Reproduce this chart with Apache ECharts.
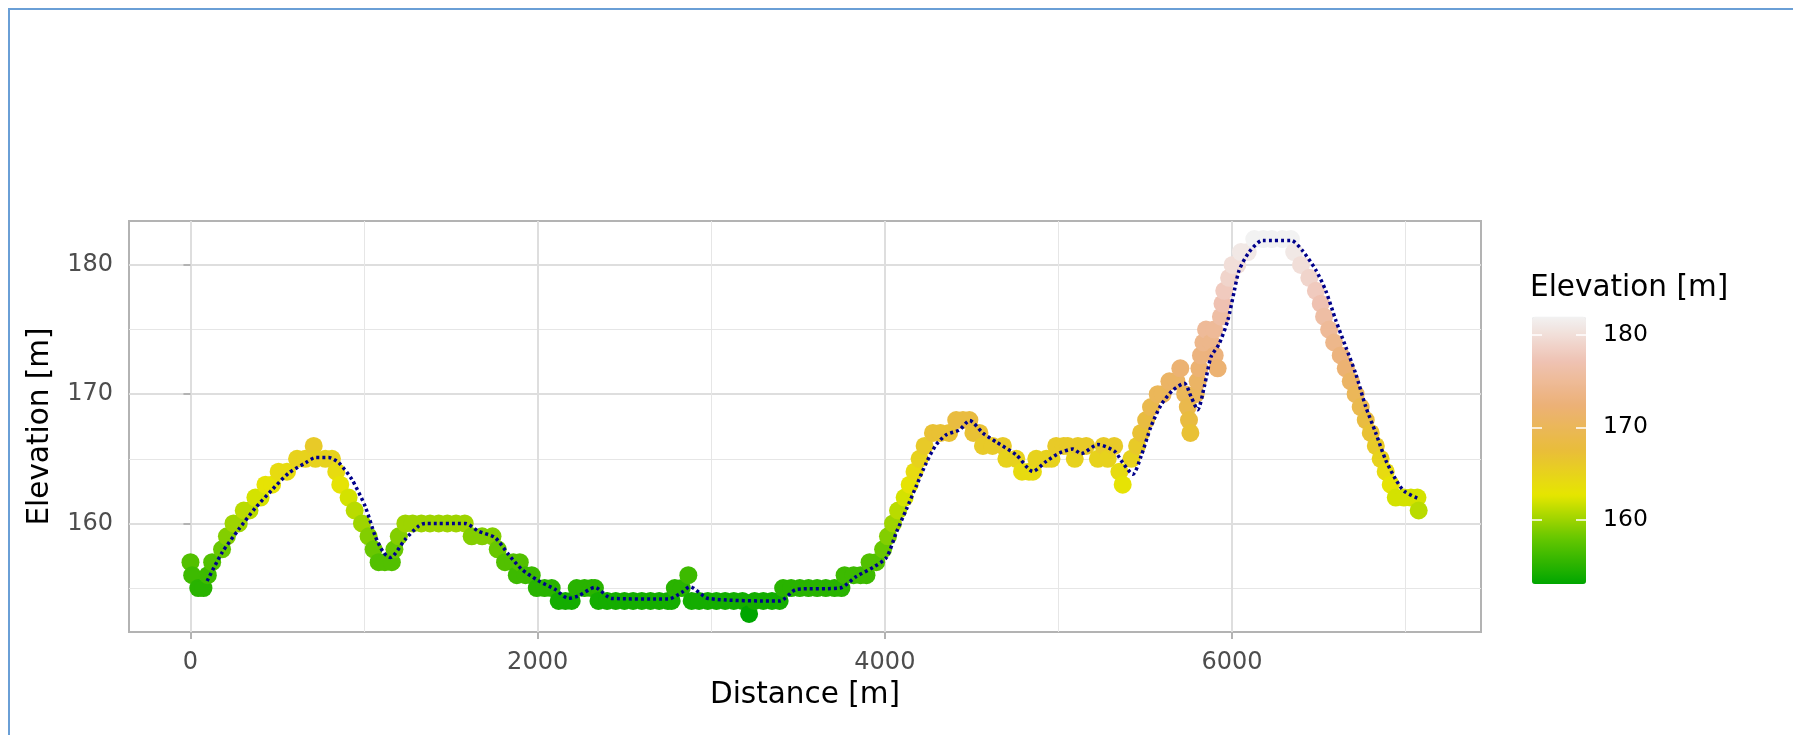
<!DOCTYPE html>
<html>
<head>
<meta charset="utf-8">
<script src="https://cdn.jsdelivr.net/npm/echarts@6/dist/echarts.min.js"></script>
<style>
html,body{margin:0;padding:0;background:#fff;overflow:hidden;}
#chart{position:absolute;left:0;top:0;width:1793px;height:735px;}
#frame{position:absolute;left:8px;top:8px;width:1800px;height:740px;border-left:2px solid #6A9FD6;border-top:2px solid #6A9FD6;pointer-events:none;}
</style>
</head>
<body>
<div id="chart"></div>
<div id="frame"></div>
<script>
// Track points (distance [m], elevation [m])
const distance = [0,10,45,75,100,125,182,210,248,278,307,340,374,404,432,470,508,556,614,662,710,720,777,815,840,863,911,946,988,1026,1055,1084,1120,1160,1175,1200,1238,1280,1330,1380,1430,1480,1530,1580,1620,1680,1740,1770,1812,1860,1880,1897,1930,1966,1995,2040,2081,2121,2160,2196,2225,2270,2310,2330,2350,2400,2450,2500,2550,2600,2650,2700,2750,2772,2790,2830,2868,2887,2930,2980,3030,3080,3130,3180,3218,3250,3300,3350,3394,3414,3460,3510,3560,3610,3660,3710,3750,3768,3820,3860,3894,3912,3950,3990,4018,4047,4076,4114,4143,4171,4200,4229,4277,4320,4370,4411,4450,4487,4510,4545,4565,4620,4680,4700,4757,4790,4830,4853,4872,4930,4960,4987,5030,5054,5094,5112,5160,5227,5260,5284,5321,5351,5370,5420,5453,5476,5505,5533,5572,5600,5639,5680,5702,5730,5745,5752,5760,5790,5802,5812,5821,5835,5850,5880,5897,5900,5917,5936,5945,5955,5983,6003,6030,6051,6090,6128,6180,6230,6290,6339,6358,6397,6445,6483,6511,6530,6559,6588,6626,6655,6684,6712,6741,6770,6799,6828,6856,6885,6914,6943,6990,7030,7068,7075];
const elevation = [157,156,155,155,156,157,158,159,160,160,161,161,162,162,163,163,164,164,165,165,166,165,165,165,164,163,162,161,160,159,158,157,157,157,158,159,160,160,160,160,160,160,160,160,159,159,159,158,157,157,156,157,156,156,155,155,155,154,154,154,155,155,155,155,154,154,154,154,154,154,154,154,154,154,155,155,156,154,154,154,154,154,154,154,153,154,154,154,154,155,155,155,155,155,155,155,155,156,156,156,156,157,157,158,159,160,161,162,163,164,165,166,167,167,167,168,168,168,167,167,166,166,166,165,165,164,164,164,165,165,165,166,166,166,165,166,166,165,166,165,166,164,163,165,166,167,168,169,170,170,171,171,172,170,169,168,167,170,171,172,173,174,175,174,175,173,172,176,177,178,179,180,180,181,181,182,182,182,182,182,181,180,179,178,177,176,175,174,173,172,171,170,169,168,167,166,165,164,163,162,162,162,162,161];

// Smoothed profile (dotted line)
const smoothDistance = [96,182,278,374,470,566,662,720,796,854,930,1007,1065,1113,1151,1237,1314,1352,1582,1659,1755,1832,1908,2005,2100,2177,2235,2330,2426,2753,2829,2877,2983,3395,3491,3740,3836,3932,4009,4066,4124,4181,4239,4296,4354,4430,4488,4565,4642,4757,4853,4929,5006,5083,5131,5227,5322,5370,5428,5476,5533,5591,5658,5725,5764,5802,5840,5879,5926,5975,6013,6041,6099,6176,6339,6406,6483,6540,6598,6655,6712,6770,6828,6885,6943,6991,7077];
const smoothElevation = [155.55,157.74,159.54,161.2,162.6,163.9,164.68,165.1,165.1,164.7,163.4,161.3,159.0,157.74,157.36,158.77,159.8,160.0,160.0,159.4,158.9,157.6,156.46,155.56,154.9,154.2,154.4,155.05,154.2,154.15,154.66,155.1,154.2,154.0,154.9,155.0,155.9,156.6,157.36,159.3,161.1,162.9,164.7,166.1,166.86,167.24,167.96,166.99,166.3,165.3,164.03,164.8,165.45,165.75,165.4,166.1,165.6,164.7,163.8,165.2,167.5,169.17,170.3,170.84,169.8,168.8,170.58,172.9,173.9,175.7,178.0,179.6,181.0,181.9,181.9,181.1,179.6,178.0,175.7,173.66,171.6,169.04,166.99,164.9,163.4,162.5,161.9];

const xTicks = [0, 2000, 4000, 6000];
const xMinorTicks = [1000, 3000, 5000, 7000];
const yTicks = [160, 170, 180];
const yMinorTicks = [155, 165, 175];
const legendTicks = [160, 170, 180];
const terrainColors = ['#00A600','#63C600','#E6E600','#E9BD3A','#ECB176','#EFC2B3','#F2F2F2'];

const FONT = 'DejaVu Sans';
const plain = v => String(v);
const chart = echarts.init(document.getElementById('chart'), null, {renderer: 'canvas'});

const scatterData = distance.map((d, i) => [d, elevation[i]]);
const lineData = smoothDistance.map((d, i) => [d, smoothElevation[i]]);

chart.setOption({
  animation: false,
  backgroundColor: '#ffffff',
  title: {
    text: 'Elevation [m]', left: 1530, top: 273, padding: 0,
    textStyle: {fontFamily: FONT, fontSize: 29.5, fontWeight: 'normal', color: '#000'}
  },
  grid: [
    {left: 129, top: 221, width: 1352, height: 411, show: true, borderColor: '#B3B3B3', borderWidth: 2, backgroundColor: 'transparent', containLabel: false},
    {left: 1532, top: 316.7, width: 54, height: 267.3, show: false, containLabel: false}
  ],
  xAxis: [
    {
      type: 'value', gridIndex: 0, min: -354, max: 7434,
      axisLine: {show: false},
      axisTick: {show: true, customValues: xTicks, length: 7, lineStyle: {color: '#B3B3B3', width: 2}},
      axisLabel: {customValues: xTicks, formatter: plain, margin: 19, color: '#4D4D4D', fontSize: 24, fontFamily: FONT},
      splitLine: {show: true, lineStyle: {color: '#DEDEDE', width: 2}},
      name: 'Distance [m]', nameLocation: 'middle', nameGap: 47,
      nameTextStyle: {fontFamily: FONT, fontSize: 29.5, color: '#000'}
    },
    {
      type: 'value', gridIndex: 0, min: -354, max: 7434, position: 'bottom',
      axisLine: {show: false},
      axisTick: {show: false, customValues: xMinorTicks},
      axisLabel: {show: false, customValues: xMinorTicks},
      splitLine: {show: true, lineStyle: {color: '#E6E6E6', width: 1}}
    },
    {type: 'value', gridIndex: 1, min: 0, max: 1, show: false}
  ],
  yAxis: [
    {
      type: 'value', gridIndex: 0, min: 151.6, max: 183.4,
      axisLine: {show: false},
      axisTick: {show: true, customValues: yTicks, length: 7, lineStyle: {color: '#B3B3B3', width: 2}},
      axisLabel: {customValues: yTicks, formatter: plain, margin: 16, color: '#4D4D4D', fontSize: 24, fontFamily: FONT},
      splitLine: {show: true, lineStyle: {color: '#DEDEDE', width: 2}},
      name: 'Elevation [m]', nameLocation: 'middle', nameGap: 74, nameRotate: 90,
      nameTextStyle: {fontFamily: FONT, fontSize: 29.5, color: '#000'}
    },
    {
      type: 'value', gridIndex: 0, min: 151.6, max: 183.4, position: 'left',
      axisLine: {show: false},
      axisTick: {show: false, customValues: yMinorTicks},
      axisLabel: {show: false, customValues: yMinorTicks},
      splitLine: {show: true, lineStyle: {color: '#E6E6E6', width: 1}}
    },
    {
      type: 'value', gridIndex: 1, min: 153, max: 182, position: 'left', z: 10,
      axisLine: {show: false},
      axisTick: {show: true, inside: true, customValues: legendTicks, length: 10, lineStyle: {color: '#ffffff', width: 1.5}},
      axisLabel: {show: false, customValues: legendTicks},
      splitLine: {show: false}
    },
    {
      type: 'value', gridIndex: 1, min: 153, max: 182, position: 'right', z: 10,
      axisLine: {show: false},
      axisTick: {show: true, inside: true, customValues: legendTicks, length: 10, lineStyle: {color: '#ffffff', width: 1.5}},
      axisLabel: {show: true, customValues: legendTicks, formatter: plain, margin: 17, color: '#000', fontSize: 23.5, fontFamily: FONT},
      splitLine: {show: false}
    }
  ],
  visualMap: {
    type: 'continuous', min: 153, max: 182, dimension: 1, seriesIndex: 0,
    inRange: {color: terrainColors},
    calculable: false, hoverLink: false, orient: 'vertical',
    left: 1532, top: 316.7, itemWidth: 54, itemHeight: 267.3, padding: 0,
    text: null, z: 2
  },
  series: [
    {
      type: 'scatter', xAxisIndex: 0, yAxisIndex: 0,
      data: scatterData, symbolSize: 18, itemStyle: {opacity: 1}, z: 2, silent: true
    },
    {
      type: 'line', xAxisIndex: 0, yAxisIndex: 0,
      data: lineData, symbol: 'none', smooth: 0.25, z: 3, silent: true,
      lineStyle: {color: '#00008B', width: 3.5, type: [3, 3]}
    }
  ]
});
</script>
</body>
</html>
